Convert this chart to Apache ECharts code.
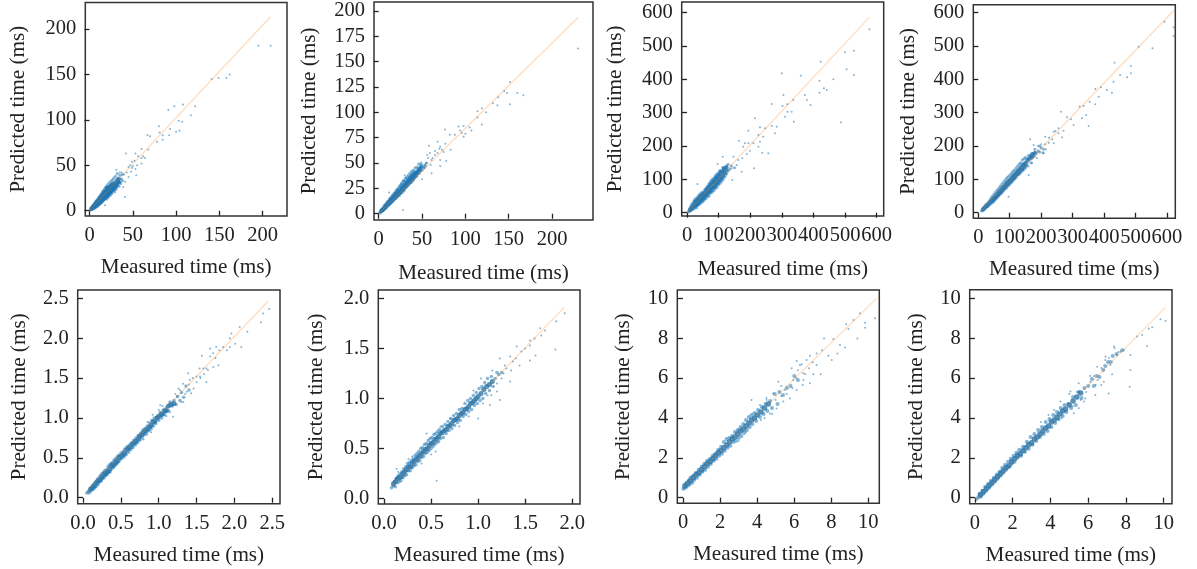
<!DOCTYPE html>
<html><head><meta charset="utf-8">
<style>html,body{margin:0;padding:0;background:#fff}#c{width:1197px;height:569px}</style>
<script src="https://cdn.jsdelivr.net/npm/echarts@6/dist/echarts.min.js"></script>
</head><body><div id="c"></div>
<script>
const xTitle = "Measured time (ms)";
const yTitle = "Predicted time (ms)";

const ticksX1 = [0,50,100,150,200], ticksY1 = [0,50,100,150,200];
const ticksX2 = [0,50,100,150,200], ticksY2 = [0,25,50,75,100,125,150,175,200];
const ticksX3 = [0,100,200,300,400,500,600], ticksY3 = [0,100,200,300,400,500,600];
const ticksX4 = [0,100,200,300,400,500,600], ticksY4 = [0,100,200,300,400,500,600];
const ticksX5 = [0,0.5,1,1.5,2,2.5], ticksY5 = [0,0.5,1,1.5,2,2.5];
const ticksX6 = [0,0.5,1,1.5,2], ticksY6 = [0,0.5,1,1.5,2];
const ticksX7 = [0,2,4,6,8,10], ticksY7 = [0,2,4,6,8,10];
const ticksX8 = [0,2,4,6,8,10], ticksY8 = [0,2,4,6,8,10];

const fit1 = [[0.5,1],[209,213.5]];
const fit2 = [[1,1],[230.3,193.8]];
const fit3 = [[2,2],[576.7,586]];
const fit4 = [[9,6],[623,608]];
const fit5 = [[0.04,0.067],[2.447,2.466]];
const fit6 = [[0.07,0.117],[1.915,1.91]];
const fit7 = [[0,0.5],[10.45,10]];
const fit8 = [[0.06,-0.07],[10.08,9.53]];

const dense1 = [[1,1],[1.5,2.5],[2,1],[2,3.5],[3,1.5],[3,4.5],[3.5,3],[4,2],[4,6],[4.5,4],[5,2.5],[5,7],[5.5,5],[6,3],[6,8.5],[6.5,5.5],[7,3.5],[7,10],[7.5,7],[8,4.5],[8,11],[8.5,8],[9,5],[9,12],[9.5,9],[10,5.5],[10,13.5],[10.5,8],[11,6.5],[11,15],[11.5,11],[12,7.5],[12,16],[12.5,10],[13,8],[13,18],[13.5,13],[14,9],[14,19],[14.5,12],[15,10],[15,21],[15.5,15],[16,11],[16,22],[16.5,14],[17,12],[17,23],[17.5,18],[18,13],[18,25],[18.5,16],[19,14],[19,26],[19.5,21],[20,13],[20,27],[20.5,18],[21,16],[21,29],[21.5,23],[22,15],[22,26],[22.5,20],[23,18],[23,31],[23.5,24],[24,17],[24,28],[24.5,21],[25,20],[25,33],[25.5,26],[26,19],[26,30],[27,22],[27,34],[27.5,27],[28,24],[28,36],[29,21],[29,31],[30,26],[30,38],[31,24],[31,33],[32,28],[32,41],[33,30],[33,36],[34,27],[35,32],[35,39],[36,30],[37,35],[38,33],[38,40]];
const core1 = [[2,2],[3,3],[4,3],[4,4.5],[5,4],[6,5],[6,6.5],[7,6],[7,8],[8,6.5],[8,9],[9,7.5],[9,10],[10,8],[10,11],[11,9],[11,12.5],[12,10],[12,13.5],[13,10.5],[13,12],[13,15],[14,11],[14,13],[14,16],[15,12],[15,14],[15,17.5],[16,13],[16,15],[16,18.5],[17,14],[17,16],[17,20],[18,15],[18,17],[18,20.5],[19,16],[19,18],[19,22],[20,15.5],[20,18.5],[20,21],[20,24],[21,18],[21,20],[21,25],[22,18],[22,21],[22,23],[23,20],[23,22],[23,26],[24,20],[24,23],[24,25.5],[25,22],[25,24],[25,28],[26,22],[26,25],[26,27.5],[27,24],[27,26],[27,30],[28,26],[28,29],[29,24],[29,27],[30,28],[30,31],[31,27],[31,30],[32,30],[32,34],[33,33],[34,31],[34,35]];
const sparse1 = [[209,181.6],[195,181.6],[162,150],[158,146],[149,146],[141,145],[91,111],[98,115],[108,117],[122,115],[117,105],[103,99],[107,98],[93,90],[104,88],[100,87],[80,93],[81,86],[84.5,83],[84.5,78],[92,83],[67,83],[70,82],[78,76],[68,67],[60,68],[42,63],[53,63],[56,60],[49,54],[60,58],[64,58],[60,52],[53,46],[49,47],[41,15],[18,6],[31,45],[35,42],[45,37],[45,48],[54,39],[39,26],[41,32],[40,40],[37,42],[43,42],[47,50],[50,49],[48,43],[52,55],[55,50],[62,60]];

const dense2 = [[1,1],[2,1],[2,2.5],[3,2],[3,4],[4,2.5],[4,5],[5,3],[5,6],[6,4],[6,7.5],[7,5],[7,8.5],[8,5.5],[8,9.5],[9,6],[9,10.5],[10,7],[10,12],[11,8],[11,12],[12,8.5],[12,14],[13,9.5],[13,15],[14,10],[14,16],[15,11],[15,17],[16,12],[16,18.5],[17,13],[17,19],[18,13.5],[18,20.5],[19,15],[19,21],[20,15],[20,23],[21,16.5],[21,23.5],[22,17],[22,25],[23,18.5],[23,25],[24,18],[24,27],[25,20],[25,28],[26,20.5],[26,29.5],[27,21],[27,30],[28,23],[28,32],[29,22.5],[29,33],[30,24],[30,32],[31,26],[31,35],[32,26],[32,36],[33,27],[33,34],[34,28],[34,38],[35,29],[35,36],[36,30],[36,40],[37,31],[37,38],[38,31],[38,42],[39,33],[39,40],[40,33],[40,43],[41,35],[42,36],[42,45],[43,37],[44,37],[44,46],[45,39],[46,41],[46,49],[47,40],[48,42],[49,44],[49,50],[50,43],[51,46],[52,45],[53,48],[54,47],[55,50]];
const core2 = [[3,3],[4,3.5],[5,4],[6,5],[7,6],[8,7],[9,8],[10,8.5],[11,9.5],[12,11],[13,11.5],[14,12],[14,13.5],[15,13],[16,14],[16,15.5],[17,15],[18,15.5],[18,17.5],[19,17],[20,17],[20,20],[21,18.5],[22,19],[22,21.5],[23,20.5],[24,20.5],[24,23],[25,22],[26,23],[26,25.5],[27,24],[28,24.5],[28,27],[29,26],[30,26],[30,29],[31,28],[32,28.5],[32,31],[33,30],[34,30],[34,33],[35,32],[36,32],[36,35],[37,34],[38,34],[38,37],[39,36],[40,35],[40,39],[41,37],[42,38],[42,41],[43,40],[44,40],[45,42],[46,44],[47,43],[48,45],[49,47]];
const sparse2 = [[230,163],[151.5,130],[167,117],[160,119],[151.5,108],[148,119],[145,121],[138,115],[137,107],[132,109],[119,104],[124,100],[114,101],[119,88],[114,95],[107,82],[98,86.5],[100,79],[94,82],[98,76],[76.5,83],[88,78],[82,78],[77,69],[75,61],[68,71],[58,67],[71,66],[83,63],[65,58],[78,52],[71,47],[71,53],[61,53],[55,50],[53,45],[28,3.6],[30,38],[12,21],[61,40],[50,34],[57,55],[59,60],[62,55],[65,62],[60,48],[68,60],[56,58],[73,63],[70,64],[92,86],[96,80],[105,85]];

const dense3 = [[4,3],[6,5],[8,4],[8,10],[10,7],[10,15],[12,6],[12,20],[15,9],[15,18],[15,27],[18,12],[18,24],[20,10],[20,30],[22,16],[22,35],[25,14],[25,26],[25,40],[28,20],[28,33],[30,15],[30,44],[32,24],[32,38],[35,22],[35,50],[38,28],[38,42],[40,25],[40,55],[42,34],[42,48],[45,30],[45,60],[48,38],[48,52],[50,33],[50,62],[52,44],[55,38],[55,56],[55,68],[58,46],[60,42],[60,64],[60,74],[62,52],[65,48],[65,70],[65,80],[68,58],[70,50],[70,75],[70,88],[72,62],[75,58],[75,82],[75,95],[78,68],[80,62],[80,88],[80,100],[82,74],[85,66],[85,92],[85,104],[88,80],[90,72],[90,98],[90,112],[92,86],[95,76],[95,104],[95,116],[98,90],[100,84],[100,110],[102,98],[105,88],[105,120],[108,104],[110,94],[110,125],[112,112],[115,100],[115,130],[118,118],[120,108],[120,136],[125,118],[125,140],[130,125],[130,145],[135,130],[150,135],[140,140]];
const core3 = [[10,10],[14,13],[18,18],[22,22],[25,20],[25,32],[28,26],[30,22],[30,36],[32,30],[35,28],[35,42],[38,35],[40,33],[40,47],[43,40],[45,38],[45,52],[48,45],[50,40],[50,55],[53,50],[55,47],[55,60],[58,55],[60,52],[60,68],[63,60],[65,56],[65,74],[68,66],[70,62],[70,80],[73,72],[75,66],[75,86],[78,78],[80,72],[80,92],[83,84],[85,76],[85,96],[88,90],[90,80],[90,104],[93,96],[95,86],[95,108],[98,102],[100,92],[100,116],[103,108],[105,98],[105,124],[108,114],[110,104],[112,122],[115,110],[115,134],[118,126],[120,118],[125,128],[125,136]];
const sparse3 = [[577,550],[500,481],[528,486],[505,430],[528,413],[487,271],[463,400],[423,453],[419,396],[433,373],[442,368],[419,360],[379,338],[373,353],[360,411],[300,418],[305,353],[317,325],[336,338],[391,323],[268,326],[302,320],[310,288],[318,303],[331,303],[338,273],[215,283],[231,256],[247,253],[284,258],[268,260],[278,238],[194,246],[164,216],[183,208],[210,208],[226,233],[241,228],[231,213],[199,186],[238,180],[257,178],[212,133],[178,198],[194,208],[175,163],[173,123],[141,133],[157,143],[147,168],[113,168],[97,146],[33,86],[162,158],[189,176],[226,198],[143,98],[125,113]];

const dense4 = [[10,5],[12,9],[15,6],[15,14],[18,12],[20,10],[20,20],[25,15],[25,25],[28,20],[30,18],[30,30],[33,25],[35,22],[35,36],[38,30],[40,27],[40,44],[43,35],[45,30],[45,50],[48,40],[50,34],[50,56],[53,45],[55,40],[55,62],[58,50],[60,45],[60,68],[63,55],[65,50],[65,74],[68,60],[70,55],[70,80],[72,66],[75,60],[75,86],[78,70],[80,65],[80,92],[82,76],[85,70],[85,98],[88,82],[90,75],[90,104],[92,88],[95,80],[95,108],[98,92],[100,85],[100,112],[103,98],[105,90],[105,118],[108,102],[110,95],[110,124],[113,108],[115,100],[115,128],[118,112],[120,105],[120,134],[123,116],[125,112],[125,140],[128,122],[130,115],[130,146],[133,126],[135,120],[135,150],[138,132],[140,125],[140,158],[145,130],[145,162],[148,142],[150,135],[150,166],[155,148],[158,140],[160,155],[160,172],[165,160],[168,150],[170,178],[175,168],[180,170],[180,190],[185,178],[190,185],[195,182],[195,200],[200,195],[205,180],[208,190]];
const core4 = [[15,10],[20,15],[25,20],[30,24],[35,29],[40,35],[45,40],[45,36],[50,45],[50,40],[55,50],[55,46],[60,56],[60,51],[65,62],[65,56],[70,67],[70,60],[75,73],[75,66],[80,78],[80,72],[85,84],[85,76],[90,90],[90,82],[95,95],[95,86],[100,98],[100,92],[105,104],[105,96],[110,110],[110,102],[115,115],[115,106],[120,120],[120,112],[125,126],[125,118],[130,130],[130,122],[135,136],[135,128],[140,142],[140,132],[145,146],[145,138],[150,150],[150,142],[155,158],[160,162],[165,168],[170,165],[175,176],[180,180],[170,172]];
const sparse4 = [[592,573],[621,556],[621,530],[554,493],[510,498],[433,450],[485,440],[485,418],[473,406],[451,413],[430,393],[425,360],[409,368],[390,376],[372,371],[383,348],[372,325],[354,333],[322,318],[335,320],[343,293],[330,283],[351,260],[263,303],[282,286],[295,280],[255,253],[271,246],[266,226],[240,208],[224,210],[213,228],[165,220],[176,203],[255,238],[160,113],[96,48],[187,163],[208,178],[171,148],[144,128],[303,263],[240,243],[200,205],[212,205],[215,190],[225,225],[235,220],[245,245],[190,200]];

const dense5 = [[0.05,0.06],[0.07,0.08],[0.08,0.06],[0.09,0.1],[0.1,0.08],[0.11,0.13],[0.12,0.1],[0.13,0.16],[0.14,0.11],[0.15,0.18],[0.16,0.13],[0.17,0.2],[0.18,0.15],[0.19,0.23],[0.2,0.17],[0.21,0.25],[0.22,0.2],[0.23,0.28],[0.24,0.21],[0.25,0.3],[0.26,0.24],[0.27,0.32],[0.28,0.25],[0.29,0.34],[0.3,0.28],[0.31,0.35],[0.32,0.29],[0.33,0.39],[0.34,0.32],[0.35,0.41],[0.36,0.33],[0.37,0.43],[0.38,0.36],[0.39,0.44],[0.4,0.38],[0.41,0.47],[0.42,0.4],[0.43,0.49],[0.44,0.42],[0.45,0.51],[0.46,0.44],[0.47,0.53],[0.48,0.46],[0.5,0.56],[0.51,0.49],[0.53,0.58],[0.54,0.51],[0.55,0.61],[0.57,0.54],[0.58,0.64],[0.6,0.57],[0.61,0.66],[0.63,0.6],[0.64,0.69],[0.66,0.63],[0.67,0.72],[0.69,0.66],[0.7,0.75],[0.72,0.69],[0.73,0.78],[0.75,0.72],[0.76,0.81],[0.78,0.75],[0.79,0.85],[0.81,0.79],[0.82,0.87],[0.84,0.8],[0.85,0.9],[0.87,0.84],[0.88,0.94],[0.9,0.86],[0.91,0.97],[0.93,0.9],[0.94,1.0],[0.96,0.93],[0.97,1.01],[1,0.97],[1.02,1.07],[1.04,1.0],[1.06,1.1],[1.08,1.04],[1.1,1.13],[1.13,1.09],[1.15,1.2],[1.18,1.15],[1.2,1.22],[1.23,1.17],[1.25,1.27],[1.28,1.22],[1.3,1.32],[1.33,1.26],[1.36,1.4],[1.4,1.35]];
const core5 = [[0.1,0.11],[0.13,0.13],[0.15,0.15],[0.18,0.19],[0.2,0.21],[0.23,0.23],[0.25,0.26],[0.28,0.29],[0.3,0.31],[0.33,0.33],[0.35,0.36],[0.38,0.4],[0.4,0.41],[0.43,0.44],[0.45,0.46],[0.48,0.5],[0.5,0.52],[0.53,0.54],[0.55,0.56],[0.58,0.6],[0.6,0.62],[0.63,0.64],[0.65,0.67],[0.68,0.69],[0.7,0.71],[0.73,0.74],[0.75,0.77],[0.78,0.79],[0.8,0.82],[0.83,0.84],[0.85,0.86],[0.88,0.89],[0.9,0.91],[0.93,0.95],[0.95,0.96],[0.98,1.0],[1.0,1.02],[1.03,1.04],[1.05,1.05],[1.08,1.09],[1.1,1.09],[1.13,1.15],[1.16,1.17],[1.2,1.18]];
const sparse5 = [[2.46,2.365],[2.38,2.31],[2.35,2.2],[2.09,1.89],[2.07,2.14],[2.17,2.08],[1.96,2.06],[1.94,2.0],[2.01,1.93],[1.85,1.89],[1.76,1.89],[1.68,1.87],[1.57,1.78],[1.68,1.77],[1.79,1.66],[1.72,1.64],[1.63,1.62],[1.54,1.62],[1.63,1.45],[1.5,1.45],[1.41,1.475],[1.39,1.56],[1.46,1.37],[1.32,1.43],[1.24,1.27],[1.43,1.31],[1.325,1.2],[1.19,1.015],[1.13,1.16],[1.02,1.16],[1.26,1.37],[1.37,1.33],[1.59,1.62],[1.72,1.81],[1.9,1.85],[1.545,1.52],[1.94,1.89],[1.0,1.1],[1.05,1.15],[1.1,1.02],[1.15,1.07],[1.22,1.3],[1.28,1.35],[1.3,1.2],[1.35,1.3],[1.4,1.42],[1.45,1.5],[1.5,1.52],[1.55,1.5],[1.6,1.55],[1.65,1.6],[1.75,1.75],[1.8,1.85],[0.85,0.95],[0.92,1.04],[0.9,0.82],[0.8,0.73]];

const dense6 = [[0.08,0.11],[0.1,0.13],[0.11,0.17],[0.12,0.12],[0.13,0.2],[0.14,0.16],[0.15,0.23],[0.16,0.17],[0.17,0.25],[0.18,0.18],[0.19,0.27],[0.2,0.21],[0.21,0.3],[0.22,0.23],[0.23,0.32],[0.24,0.24],[0.25,0.35],[0.26,0.28],[0.27,0.36],[0.28,0.28],[0.29,0.38],[0.3,0.31],[0.31,0.4],[0.32,0.33],[0.33,0.43],[0.34,0.34],[0.35,0.45],[0.36,0.37],[0.37,0.47],[0.38,0.38],[0.39,0.5],[0.4,0.41],[0.41,0.51],[0.42,0.42],[0.43,0.54],[0.44,0.45],[0.45,0.55],[0.46,0.46],[0.47,0.58],[0.48,0.48],[0.49,0.6],[0.5,0.5],[0.51,0.61],[0.52,0.52],[0.53,0.64],[0.54,0.54],[0.55,0.65],[0.56,0.56],[0.57,0.67],[0.58,0.57],[0.59,0.69],[0.6,0.6],[0.62,0.72],[0.63,0.61],[0.65,0.74],[0.66,0.65],[0.68,0.77],[0.69,0.68],[0.71,0.8],[0.72,0.7],[0.74,0.83],[0.75,0.73],[0.77,0.85],[0.78,0.76],[0.8,0.89],[0.81,0.78],[0.83,0.9],[0.84,0.82],[0.86,0.95],[0.87,0.84],[0.89,0.98],[0.9,0.87],[0.92,1.0],[0.93,0.89],[0.95,1.03],[0.96,0.93],[0.98,1.06],[0.99,0.95],[1.01,1.1],[1.02,0.98],[1.04,1.12],[1.05,1.0],[1.07,1.16],[1.08,1.05],[1.1,1.2],[1.12,1.08],[1.14,1.22],[1.16,1.12],[1.18,1.2],[1.2,1.26],[1.22,1.24],[1.25,1.26]];
const core6 = [[0.1,0.15],[0.12,0.17],[0.14,0.2],[0.16,0.21],[0.18,0.22],[0.2,0.25],[0.22,0.27],[0.24,0.29],[0.26,0.32],[0.28,0.32],[0.3,0.35],[0.32,0.37],[0.34,0.39],[0.36,0.41],[0.38,0.43],[0.4,0.45],[0.42,0.47],[0.44,0.49],[0.46,0.5],[0.48,0.53],[0.5,0.55],[0.52,0.56],[0.54,0.59],[0.56,0.6],[0.58,0.62],[0.6,0.65],[0.62,0.66],[0.64,0.68],[0.66,0.69],[0.68,0.72],[0.7,0.73],[0.72,0.75],[0.74,0.78],[0.76,0.79],[0.78,0.8],[0.8,0.83],[0.82,0.85],[0.84,0.86],[0.86,0.89],[0.88,0.9],[0.9,0.92],[0.92,0.95],[0.94,0.96],[0.96,0.98],[0.98,1.0],[1.0,1.02],[1.03,1.05],[1.06,1.09],[1.09,1.12],[1.12,1.14],[1.15,1.17]];
const sparse6 = [[1.92,1.85],[1.83,1.77],[1.82,1.49],[1.66,1.7],[1.67,1.63],[1.61,1.43],[1.55,1.58],[1.55,1.38],[1.46,1.47],[1.44,1.33],[1.41,1.52],[1.34,1.42],[1.23,1.4],[1.285,1.33],[1.34,1.17],[1.23,0.985],[1.2,1.07],[1.125,0.935],[1.27,1.25],[0.56,0.18],[0.453,0.65],[0.26,0.396],[0.135,0.3],[1.0,0.8],[1.14,1.035],[1.37,1.37],[1.55,1.53],[1.71,1.68],[1.15,1.28],[1.2,1.15],[1.25,1.2],[1.3,1.3],[1.35,1.28],[1.4,1.4],[1.1,1.03],[1.05,0.95],[1.03,1.2],[0.9,0.82],[0.95,1.08],[0.8,0.72],[0.7,0.8],[0.6,0.72],[0.5,0.44],[0.55,0.47],[0.4,0.35],[0.3,0.42],[0.15,0.27],[1.5,1.5],[1.6,1.6]];

const dense7 = [[0.02,0.45],[0.1,0.5],[0.15,0.7],[0.2,0.55],[0.3,0.85],[0.35,0.65],[0.4,1.0],[0.5,0.75],[0.55,1.1],[0.6,0.9],[0.7,1.25],[0.75,1.0],[0.85,1.4],[0.9,1.15],[1,1.55],[1.05,1.3],[1.15,1.7],[1.2,1.4],[1.3,1.85],[1.35,1.55],[1.45,1.95],[1.5,1.7],[1.6,2.1],[1.65,1.85],[1.75,2.2],[1.8,1.95],[1.9,2.4],[1.95,2.1],[2.05,2.55],[2.1,2.2],[2.2,2.8],[2.25,2.35],[2.35,2.95],[2.4,2.5],[2.5,3.0],[2.55,2.6],[2.65,3.1],[2.7,2.8],[2.8,3.3],[2.85,2.85],[2.95,3.4],[3,3.0],[3.1,3.55],[3.15,3.1],[3.25,3.7],[3.3,3.25],[3.4,3.9],[3.45,3.4],[3.55,4.05],[3.6,3.55],[3.7,4.15],[3.75,3.7],[3.85,4.25],[3.95,3.85],[4.05,4.4],[4.15,4.05],[4.25,4.55],[4.35,4.2],[4.45,4.7],[4.55,4.35],[4.7,4.85],[4.8,4.5],[4.95,5.2],[5.1,4.7],[5.2,5.3],[5.4,5.15],[5.6,5.5],[5.8,5.6],[6,6.1],[6.2,5.9]];
const core7 = [[0.1,0.6],[0.25,0.72],[0.4,0.85],[0.55,1.0],[0.7,1.15],[0.85,1.25],[1,1.4],[1.15,1.55],[1.3,1.7],[1.45,1.8],[1.6,1.95],[1.75,2.1],[1.9,2.25],[2.05,2.35],[2.2,2.5],[2.35,2.65],[2.5,2.8],[2.65,2.95],[2.8,3.05],[2.95,3.2],[3.1,3.35],[3.25,3.45],[3.4,3.6],[3.55,3.75],[3.7,3.9],[3.85,4.0],[4,4.15],[4.2,4.3],[4.4,4.5],[4.6,4.7]];
const sparse7 = [[10.36,9.0],[9.82,8.53],[9.82,8.78],[9.55,9.25],[9.19,8.91],[9.41,7.99],[8.92,8.46],[8.8,8.7],[8.47,7.66],[8.74,7.53],[8.11,7.96],[7.61,7.99],[8.33,7.24],[8.02,6.91],[7.84,7.12],[7.21,7.24],[6.85,7.12],[6.67,6.91],[6.13,6.86],[6.31,6.66],[5.86,6.49],[7.43,6.19],[7.03,6.19],[6.85,5.74],[6.46,5.65],[6.13,5.4],[5.77,4.98],[5.14,5.82],[4.87,5.23],[5.5,5.4],[4.51,4.9],[3.7,4.9],[5.05,4.48],[4.69,4.23],[4.15,4.65],[5.41,4.82],[5.95,5.9],[6.49,6.24],[7.21,6.66],[4.5,5.0],[4.8,4.2],[4.4,4.0],[5.3,5.6],[5.6,5.2],[5.9,5.5],[6.2,6.4],[6.5,5.9],[6.8,6.5],[7.0,6.8],[6.1,6.0],[5.0,4.9],[5.3,5.1],[6.4,6.7],[6.6,6.2],[7.5,7.4],[3.4,3.3],[3.0,2.85],[4.2,3.9]];

const dense8 = [[0.1,-0.05],[0.2,0.05],[0.25,0.2],[0.3,0.05],[0.4,0.35],[0.45,0.2],[0.55,0.55],[0.6,0.35],[0.7,0.7],[0.75,0.5],[0.85,0.85],[0.9,0.65],[1,1.0],[1.05,0.8],[1.15,1.15],[1.2,0.95],[1.3,1.3],[1.35,1.1],[1.45,1.5],[1.5,1.25],[1.6,1.65],[1.65,1.4],[1.75,1.8],[1.8,1.55],[1.9,1.95],[1.95,1.7],[2.05,2.1],[2.1,1.8],[2.2,2.25],[2.25,2.0],[2.35,2.4],[2.45,2.1],[2.55,2.55],[2.65,2.3],[2.75,2.8],[2.85,2.45],[2.95,3.05],[3.05,2.65],[3.15,3.2],[3.25,2.85],[3.35,3.4],[3.45,3.05],[3.55,3.55],[3.65,3.2],[3.75,3.8],[3.85,3.35],[3.95,3.95],[4.05,3.55],[4.15,4.15],[4.25,3.75],[4.35,4.3],[4.45,3.95],[4.55,4.5],[4.65,4.1],[4.75,4.65],[4.85,4.3],[4.95,4.7],[5.1,4.5],[5.2,5.05],[5.35,4.65],[5.5,5.3],[5.65,5.0],[5.8,5.5],[6,5.6],[6.2,5.95],[6.3,5.6],[6.45,6.1],[6.6,6.05],[6.8,6.4],[6.9,6.6],[7.05,6.8],[7.2,6.8],[7.3,7.1],[7.5,7.2],[7.8,7.4]];
const core8 = [[0.3,0.15],[0.45,0.3],[0.6,0.45],[0.75,0.6],[0.9,0.75],[1.05,0.9],[1.2,1.05],[1.35,1.2],[1.5,1.35],[1.65,1.5],[1.8,1.6],[1.95,1.8],[2.1,1.95],[2.25,2.1],[2.4,2.2],[2.55,2.35],[2.7,2.5],[2.85,2.65],[3,2.75],[3.15,2.95],[3.3,3.05],[3.45,3.2],[3.6,3.35],[3.75,3.5],[3.9,3.6],[4.05,3.8],[4.2,3.9],[4.35,4.05],[4.5,4.2],[4.65,4.35],[4.8,4.45],[5,4.65],[5.2,4.85],[5.4,5.05],[5.6,5.25]];
const sparse8 = [[10.1,8.86],[9.83,8.95],[9.39,8.55],[9.21,8.49],[8.86,8.16],[9.12,7.61],[8.59,8.08],[8.24,6.4],[8.2,5.57],[8.24,7.16],[7.89,7.41],[7.36,7.58],[7.18,6.66],[7.09,5.23],[7.27,6.19],[6.69,5.65],[6.38,5.15],[6.83,5.82],[6.48,6.57],[6.92,7.07],[7.53,7.16],[7.71,7.32],[5.5,5.74],[5.85,4.98],[5.24,4.23],[4.53,4.82],[5.06,5.32],[6.12,5.82],[5.77,4.82],[5.5,4.48],[6.39,5.65],[5,5.2],[5.2,4.6],[5.4,5.3],[5.6,4.9],[5.9,5.3],[6.1,6.1],[6.3,6.1],[6.5,5.9],[6.7,6.5],[6.9,6.9],[7.1,7.0],[7.4,7.5],[7.6,7.3],[4.2,4.4],[4.6,4.0],[4.4,3.9],[3.9,4.15],[3.5,3.8]];

const FONT = '"Liberation Serif", serif', INK = '#222', SIZE = 20.5, NAME_SIZE = 21.2;
const panels = [
 {box:[85.3,2.5,287,216],  xr:[-4.85,228],  yr:[-5.8,229.2],  gap:56, xgap:41, ds:3, cs:4, tx:ticksX1,ty:ticksY1,fit:fit1,dense:dense1,core:core1,sparse:sparse1},
 {box:[374,2,593,220],     xr:[-5.4,247.3], yr:[-6.2,208.9],  gap:54, xgap:43, ds:3, cs:4, tx:ticksX2,ty:ticksY2,fit:fit2,dense:dense2,core:core2,sparse:sparse2},
 {box:[681.7,2,883.7,216], xr:[-16.8,622.3],yr:[-9.9,632],    gap:56, xgap:43, ds:3, cs:4, tx:ticksX3,ty:ticksY3,fit:fit3,dense:dense3,core:core3,sparse:sparse3},
 {box:[973.3,4.7,1175.3,218.3],xr:[-15.9,626.4],yr:[-16.8,624],gap:54,xgap:41, ds:3, cs:4, tx:ticksX4,ty:ticksY4,fit:fit4,dense:dense4,core:core4,sparse:sparse4},
 {box:[77.7,290,280,503.7],xr:[-0.07,2.602],yr:[-0.075,2.604],gap:48, xgap:41, ds:3.5, cs:5, tx:ticksX5,ty:ticksY5,fit:fit5,dense:dense5,core:core5,sparse:sparse5,dec:1},
 {box:[378.3,290,580,504], xr:[-0.0605,2.082],yr:[-0.053,2.083],gap:51,xgap:41, ds:3.5, cs:5, tx:ticksX6,ty:ticksY6,fit:fit6,dense:dense6,core:core6,sparse:sparse6,dec:1},
 {box:[677.3,290,879.3,503.3],xr:[-0.308,10.59],yr:[-0.281,10.42],gap:43,xgap:41, ds:4, cs:5.5, tx:ticksX7,ty:ticksY7,fit:fit7,dense:dense7,core:core7,sparse:sparse7},
 {box:[969.7,289.7,1172,503.7],xr:[-0.275,10.44],yr:[-0.3,10.43],gap:43,xgap:41, ds:4, cs:5.5, tx:ticksX8,ty:ticksY8,fit:fit8,dense:dense8,core:core8,sparse:sparse8}
];
const grid=[],xAxis=[],yAxis=[],series=[];
panels.forEach((p,i)=>{
  const fmt = v => p.dec ? Number(v).toFixed(1) : String(v);
  grid.push({left:p.box[0],top:p.box[1],width:p.box[2]-p.box[0],height:p.box[3]-p.box[1],show:true,borderColor:'#333',borderWidth:1.5,backgroundColor:'#fff'});
  const common = {type:'value',gridIndex:i,scale:true,splitLine:{show:false},axisLine:{show:false},
    nameLocation:'middle',nameTextStyle:{fontFamily:FONT,fontSize:NAME_SIZE,color:INK},
    axisLabel:{fontFamily:FONT,fontSize:SIZE,color:INK,margin:9,formatter:fmt},
    axisTick:{length:5,lineStyle:{color:'#222',width:1.3}}};
  xAxis.push({...common,position:'bottom',min:p.xr[0],max:p.xr[1],name:xTitle,nameGap:p.xgap,
    axisLabel:{...common.axisLabel,customValues:p.tx},axisTick:{...common.axisTick,customValues:p.tx}});
  yAxis.push({...common,position:'left',min:p.yr[0],max:p.yr[1],name:yTitle,nameGap:p.gap,
    axisLabel:{...common.axisLabel,customValues:p.ty},axisTick:{...common.axisTick,customValues:p.ty}});
  const dots = (data,size,opacity)=>({type:'scatter',xAxisIndex:i,yAxisIndex:i,data,symbolSize:size,itemStyle:{color:'#1f77b4',opacity},silent:true,animation:false});
  series.push(dots(p.sparse,2,0.55));
  series.push(dots(p.dense,p.ds,0.55));
  series.push(dots(p.core,p.cs,0.8));
  series.push({type:'line',xAxisIndex:i,yAxisIndex:i,data:p.fit,showSymbol:false,symbol:'none',lineStyle:{color:'#ff7f0e',width:1.3,opacity:0.27},silent:true,animation:false,z:5});
});
echarts.init(document.getElementById('c'),null,{renderer:'canvas'}).setOption({animation:false,backgroundColor:'#fff',grid,xAxis,yAxis,series});
</script></body></html>
